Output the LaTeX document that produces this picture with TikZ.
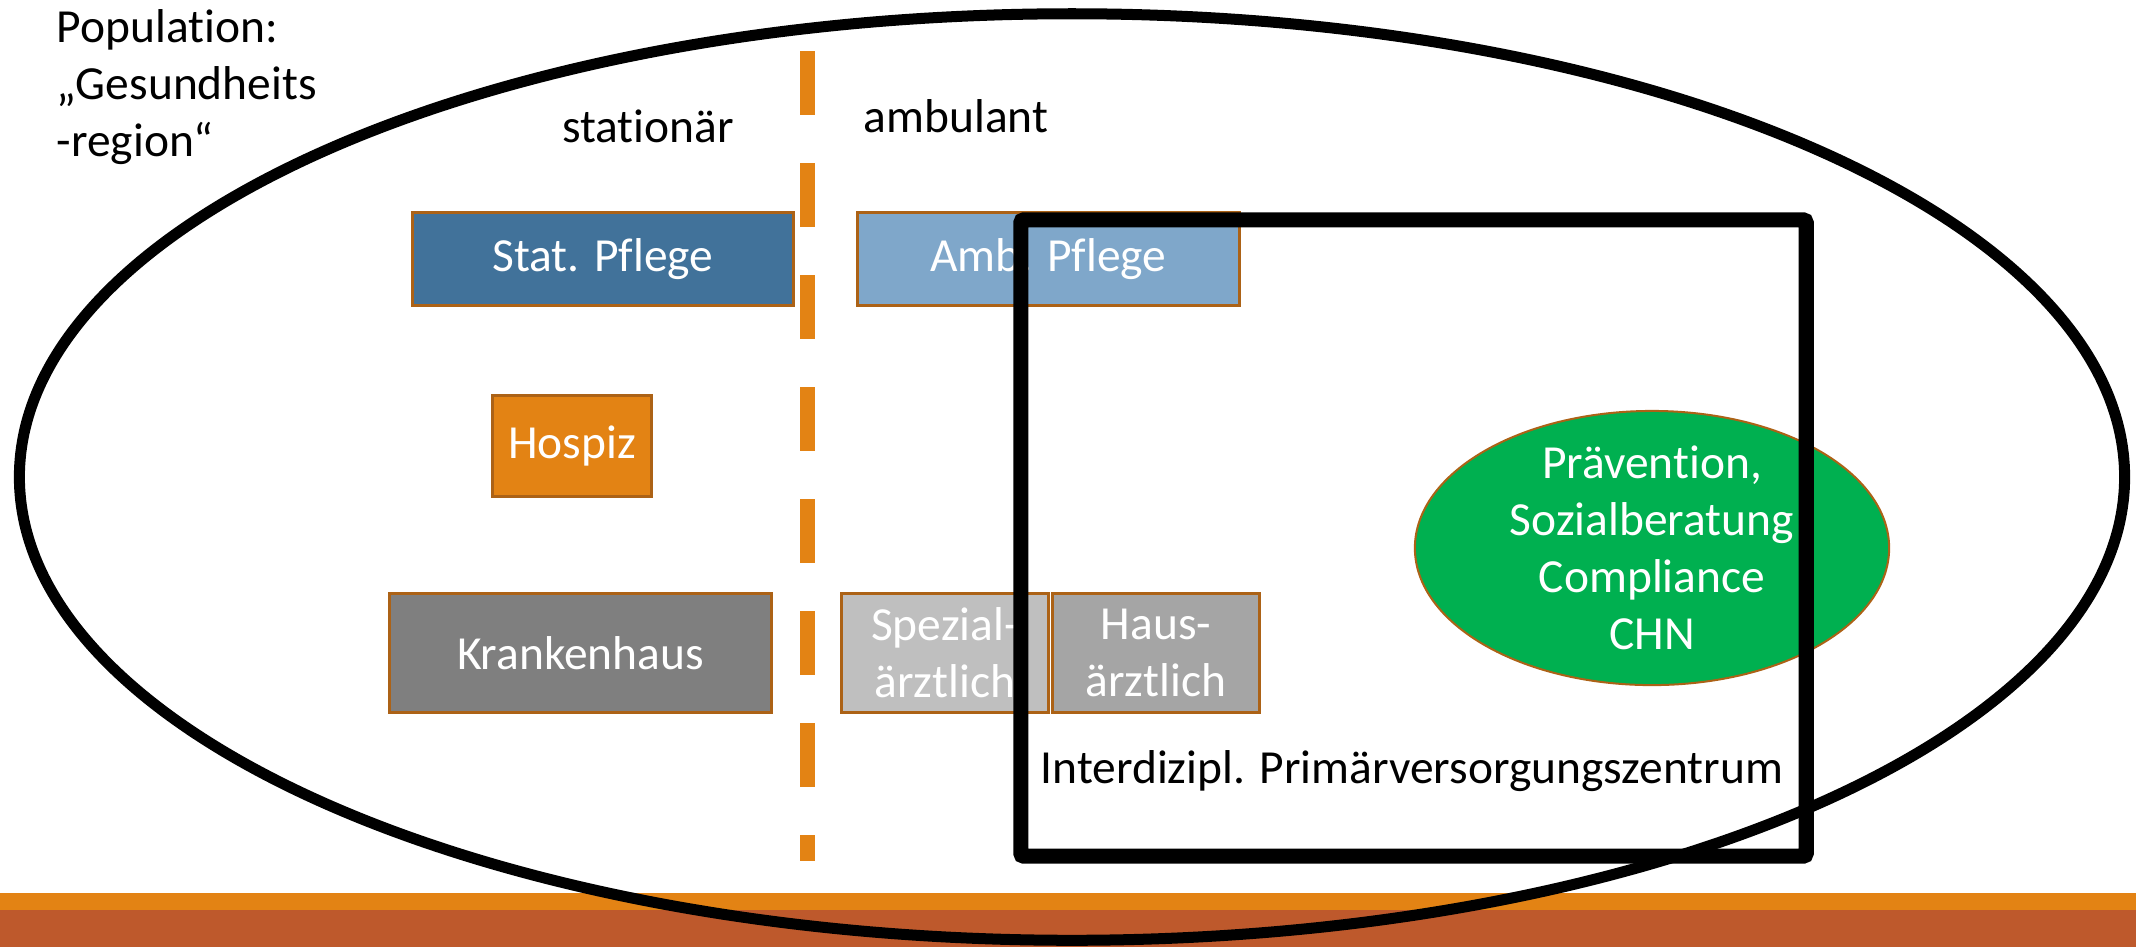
\documentclass[tikz,border=0pt]{standalone}
\usepackage{fontspec}
\setmainfont{Carlito}[Ligatures={NoCommon}]
\usetikzlibrary{shapes.geometric}
\definecolor{accentorange}{RGB}{227,131,20}
\definecolor{bandbrown}{RGB}{190,89,44}
\definecolor{boxedge}{RGB}{172,98,22}
\definecolor{statblue}{RGB}{65,114,154}
\definecolor{ambblue}{RGB}{127,167,202}
\definecolor{prevgreen}{RGB}{0,176,80}
\definecolor{khgray}{RGB}{127,127,127}
\definecolor{spgray}{RGB}{191,191,191}
\definecolor{hagray}{RGB}{165,165,165}
\begin{document}
\begin{tikzpicture}[x=0.01cm,y=-0.01cm,
  every node/.style={font=\fontsize{13.5pt}{16.2pt}\selectfont},
  carebox/.style={draw=boxedge, line width=0.03cm, inner sep=0pt, text=white, align=center},
  plain/.style={inner sep=0pt}]
\useasboundingbox (0,0) rectangle (2136,947);
% footer bands
\fill[accentorange] (0,893) rectangle (2136,910);
\fill[bandbrown] (0,910) rectangle (2136,947);
% region outline
\node[ellipse, draw, line width=0.11cm, minimum width=21.04cm, minimum height=9.26cm, inner sep=0pt] (region) at (1072,477) {};
% divider between inpatient and outpatient care
\coordinate (divtop) at (807,51);
\coordinate (divbot) at (807,861);
\draw[accentorange, line width=0.15cm, dash pattern=on 0.64cm off 0.48cm] (divtop) -- (divbot);
% headings
\node[plain, anchor=west, align=left] (population) at (56,87) {Population:\\„Gesundheits\\-region“};
\node[plain, anchor=base] (stationaer) at (648,142) {stationär};
\node[plain, anchor=base west] (ambulant) at (863,132) {ambulant};
% care providers
\node[carebox, fill=statblue, minimum width=3.8cm, minimum height=0.92cm] (statpflege) at (603,259) {Stat. Pflege};
\node[carebox, fill=ambblue, minimum width=3.81cm, minimum height=0.92cm] (ambpflege) at (1048.5,259) {Amb. Pflege};
\node[carebox, fill=accentorange, minimum width=1.58cm, minimum height=1cm] (hospiz) at (572,446) {Hospiz};
\node[carebox, fill=khgray, minimum width=3.81cm, minimum height=1.18cm] (kh) at (580.5,653) {Krankenhaus};
\node[carebox, fill=spgray, minimum width=2.06cm, minimum height=1.18cm] (spezial) at (945,653) {Spezial-\\ärztlich};
\node[carebox, fill=hagray, minimum width=2.06cm, minimum height=1.18cm] (haus) at (1156,653) {Haus-\\ärztlich};
% prevention services
\node[ellipse, draw=boxedge, line width=0.02cm, fill=prevgreen, minimum width=4.74cm, minimum height=2.74cm, inner sep=0pt] (prev) at (1652,548) {};
% primary care centre frame
\node[draw, line width=0.15cm, minimum width=7.85cm, minimum height=6.36cm, inner sep=0pt, rounded corners=0.03cm] (pvz) at (1413.5,538) {};
\node[plain, text=white, align=center] (prevtext) at (prev.center) {Prävention,\\Sozialberatung\\Compliance\\CHN};
\node[plain, anchor=base west] (pvzlabel) at (1040,783) {Interdizipl. Primärversorgungszentrum};
\end{tikzpicture}
\end{document}
